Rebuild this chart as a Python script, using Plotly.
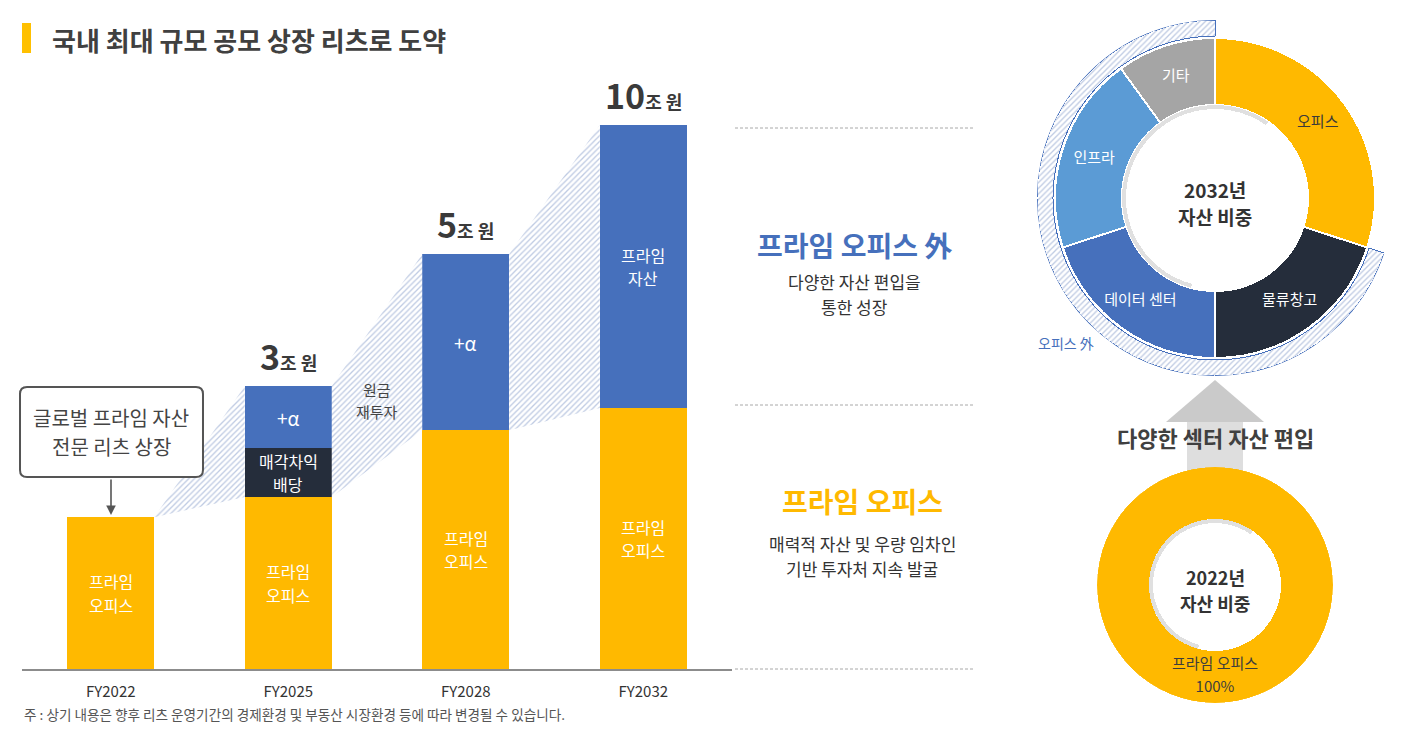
import plotly.graph_objects as go
import numpy as np

W, H = 1404, 744
OFF = 8                       # page body margin offset
WF, HF = W - OFF, H - OFF     # figure size
FONT = "Noto Sans CJK KR, Noto Sans, sans-serif"
YEL = "#FFB900"
NAVY = "#252D3B"
BLUE = "#4670BC"
LBLUE = "#5B9BD5"
GRAY = "#A5A5A5"
DARK = "#3A3A3A"

# ---------------- data ----------------
years = ["FY2022", "FY2025", "FY2028", "FY2032"]
prime_office = [27.9, 31.6, 43.9, 48.0]      # relative bar heights (illustrative)
sale_gain = [0, 9.0, 0, 0]
plus_alpha = [0, 11.4, 32.4, 52.0]
total_labels = ["", "3", "5", "10"]
office_labels = ["프라임\n오피스"] * 4
gain_labels = ["", "매각차익\n배당", "", ""]
alpha_labels = ["", "+α", "+α", "프라임\n자산"]

mix_2032_labels = ["오피스", "물류창고", "데이터 센터", "인프라", "기타"]
mix_2032_values = [30, 20, 20, 20, 10]
mix_2032_colors = [YEL, NAVY, BLUE, LBLUE, GRAY]
mix_2032_text_colors = [DARK, "white", "white", "white", "white"]
mix_2022_labels = ["프라임 오피스"]
mix_2022_values = [100]


def px(x):
    return (x - OFF) / WF


def py(y):
    return 1 - (y - OFF) / HF


fig = go.Figure()
bw = 0.49
xs_pos = list(range(len(years)))
tops = [a + b + c for a, b, c in zip(prime_office, sale_gain, plus_alpha)]

HATCH = dict(shape="/", fgcolor="#BFCBE3", bgcolor="white", size=4, solidity=0.33)

# hatched growth band between bars
for i in range(len(years) - 1):
    hx = [i + bw / 2, i + 1 - bw / 2, i + 1 - bw / 2, i + bw / 2, i + bw / 2]
    hy = [tops[i], tops[i + 1], prime_office[i + 1], prime_office[i], tops[i]]
    fig.add_trace(go.Scatter(
        x=hx, y=hy, mode="lines", fill="toself",
        line=dict(width=0, color="rgba(0,0,0,0)"),
        fillcolor="white", fillpattern=HATCH,
        hoverinfo="skip", showlegend=False))

for vals, col in [(prime_office, YEL), (sale_gain, NAVY), (plus_alpha, BLUE)]:
    fig.add_trace(go.Bar(x=xs_pos, y=vals, width=bw, marker=dict(color=col, line=dict(width=0)),
                         hoverinfo="skip", showlegend=False))

annotations = []


def ann(x, y, text, size, color, xref="paper", yref="paper", xanchor="center", yanchor="middle", **kw):
    d = dict(x=x, y=y, xref=xref, yref=yref, text=text, showarrow=False,
             font=dict(family=FONT, size=size, color=color), xanchor=xanchor, yanchor=yanchor)
    d.update(kw)
    annotations.append(d)


def ann_lines(x, y, text, size, color, gap, xref="paper", yref="paper", bold=False):
    lines = text.split("\n")
    n = len(lines)
    for k, line in enumerate(lines):
        t = "<b>%s</b>" % line if bold else line
        ann(x, y, t, size, color, xref, yref, yshift=((n - 1) / 2 - k) * gap)


# bar segment labels
for i in range(len(years)):
    ann_lines(i, prime_office[i] / 2, office_labels[i], 16, "white", 23.5, "x", "y")
    if sale_gain[i] > 0:
        ann_lines(i, prime_office[i] + sale_gain[i] / 2, gain_labels[i], 16, "white", 23.5, "x", "y")
    if plus_alpha[i] > 0:
        lab = alpha_labels[i]
        ann_lines(i, prime_office[i] + sale_gain[i] + plus_alpha[i] / 2, lab,
                  19 if lab.startswith("+") else 16, "white", 23.5, "x", "y")
    if total_labels[i]:
        ann(i, tops[i], "<b><span style='font-size:34px'>%s</span><span style='font-size:18px'>조 원</span></b>"
            % total_labels[i], 18, DARK, "x", "y", yanchor="bottom", yshift=4)

ann_lines(px(377), py(400), "원금\n재투자", 15, "#444", 22)

# callout
ann_lines(px(111), py(432), "글로벌 프라임 자산\n전문 리츠 상장", 20, "#444", 29)
annotations.append(dict(x=px(111), y=py(515), xref="paper", yref="paper", ax=0, ay=-37,
                        axref="pixel", ayref="pixel", showarrow=True, arrowhead=2, arrowsize=1.2,
                        arrowwidth=1.6, arrowcolor="#555", text=""))

# title
ann(px(50), py(40), "<b>국내 최대 규모 공모 상장 리츠로 도약</b>", 26, "#404040", xanchor="left")

# right texts
ann(px(855), py(245), "<b>프라임 오피스 外</b>", 28, BLUE)
ann_lines(px(855), py(294), "다양한 자산 편입을\n통한 성장", 17, "#333", 25)
ann(px(862), py(501), "<b>프라임 오피스</b>", 28, YEL)
ann_lines(px(862), py(556), "매력적 자산 및 우량 임차인\n기반 투자처 지속 발굴", 17, "#333", 25)

# footnote
ann(px(22), py(714), "주 : 상기 내용은 향후 리츠 운영기간의 경제환경 및 부동산 시장환경 등에 따라 변경될 수 있습니다.",
    13.6, "#555", xanchor="left")

# ---------------- donut 2032 ----------------
vals = np.array(mix_2032_values, dtype=float)
spans = 360 * vals / vals.sum()
starts = np.concatenate([[0], np.cumsum(spans)[:-1]])
centers = starts + spans / 2

ring_start = starts[1]
ring_span = 360 - ring_start
fig.add_trace(go.Barpolar(
    r=[16], base=[162], theta=[ring_start + ring_span / 2], width=[ring_span],
    marker=dict(color="white", pattern=HATCH, line=dict(color=BLUE, width=1)),
    subplot="polar", hoverinfo="skip", showlegend=False))
fig.add_trace(go.Barpolar(
    r=[67] * len(vals), base=[93] * len(vals), theta=centers, width=spans,
    marker=dict(color=mix_2032_colors, line=dict(color="white", width=2)),
    subplot="polar", hoverinfo="skip", showlegend=False))
fig.add_trace(go.Barpolar(
    r=[4], base=[89], theta=[295], width=[200], marker=dict(color="#E0E0E0", line=dict(width=0)),
    subplot="polar", hoverinfo="skip", showlegend=False))
fig.add_trace(go.Scatterpolar(
    r=[127] * len(vals), theta=centers, mode="text", text=mix_2032_labels,
    textfont=dict(family=FONT, size=15, color=mix_2032_text_colors),
    subplot="polar", hoverinfo="skip", showlegend=False))

ann_lines(px(1215), py(203), "2032년\n자산 비중", 19, "#333", 27.5, bold=True)
ann(px(1066), py(343), "오피스 外", 14, BLUE)

# ---------------- donut 2022 ----------------
v22 = np.array(mix_2022_values, dtype=float)
sp22 = 360 * v22 / v22.sum()
ce22 = np.concatenate([[0], np.cumsum(sp22)[:-1]]) + sp22 / 2
fig.add_trace(go.Barpolar(
    r=[52] * len(v22), base=[66] * len(v22), theta=ce22, width=sp22,
    marker=dict(color=YEL, line=dict(width=0)), subplot="polar2", hoverinfo="skip", showlegend=False))
fig.add_trace(go.Barpolar(
    r=[4], base=[62], theta=[295], width=[200], marker=dict(color="#E0E0E0", line=dict(width=0)),
    subplot="polar2", hoverinfo="skip", showlegend=False))
fig.add_trace(go.Scatterpolar(
    r=[80, 103], theta=[180, 180], mode="text",
    text=[mix_2022_labels[0], "%d%%" % mix_2022_values[0]],
    textfont=dict(family=FONT, size=15, color="#3d3d3d"),
    subplot="polar2", hoverinfo="skip", showlegend=False))
ann_lines(px(1215), py(590), "2022년\n자산 비중", 18, "#333", 26, bold=True)

# arrow text
ann(px(1215), py(437), "<b>다양한 섹터 자산 편입</b>", 22, "#404040")

# ---------------- shapes ----------------
shapes = []
shapes.append(dict(type="rect", xref="paper", yref="paper", x0=px(22), x1=px(31), y0=py(53), y1=py(23),
                   fillcolor="#FFC000", line=dict(width=0)))


def rrect(x0, y0, x1, y1, r):
    pts = [
        ("M", x0 + r, y0), ("L", x1 - r, y0), ("Q", x1, y0, x1, y0 + r), ("L", x1, y1 - r),
        ("Q", x1, y1, x1 - r, y1), ("L", x0 + r, y1), ("Q", x0, y1, x0, y1 - r), ("L", x0, y0 + r),
        ("Q", x0, y0, x0 + r, y0)]
    s = ""
    for p in pts:
        if p[0] == "Q":
            s += "Q%.5f,%.5f %.5f,%.5f " % (px(p[1]), py(p[2]), px(p[3]), py(p[4]))
        else:
            s += "%s%.5f,%.5f " % (p[0], px(p[1]), py(p[2]))
    return s + "Z"


shapes.append(dict(type="path", xref="paper", yref="paper", path=rrect(20, 387, 203, 477, 7),
                   line=dict(color="#555", width=2), fillcolor="white"))

for yy in [128, 405, 669]:
    shapes.append(dict(type="line", xref="paper", yref="paper", x0=px(735), x1=px(975), y0=py(yy), y1=py(yy),
                       line=dict(color="#A8A8A8", width=1, dash="3px,2px")))


def poly(points):
    return "M" + " L".join("%.5f,%.5f" % (px(a), py(b)) for a, b in points) + " Z"


shapes.append(dict(type="path", xref="paper", yref="paper", layer="below",
                   path=poly([(1187, 420), (1243, 420), (1243, 480), (1187, 480)]),
                   fillcolor="#DEDEDE", line=dict(width=0)))
shapes.append(dict(type="path", xref="paper", yref="paper", layer="below",
                   path=poly([(1215, 380), (1264, 422), (1166, 422)]),
                   fillcolor="#CACACA", line=dict(width=0)))

fig.update_layout(
    width=WF, height=HF, template="none",
    margin=dict(l=0, r=0, t=0, b=0),
    paper_bgcolor="white", plot_bgcolor="rgba(0,0,0,0)",
    barmode="stack", showlegend=False, hovermode=False,
    font=dict(family=FONT),
    xaxis=dict(domain=[px(22), px(732)], range=[-0.5, 3.5], tickvals=xs_pos, ticktext=years,
               showline=True, linecolor="#8C8C8C", linewidth=1.5, showgrid=False, zeroline=False,
               ticks="outside", ticklen=8, tickcolor="rgba(0,0,0,0)",
               tickfont=dict(family=FONT, size=15, color="#333"), fixedrange=True),
    yaxis=dict(domain=[py(669), py(125)], range=[0, 100], visible=False, showgrid=False, zeroline=False),
    polar=dict(domain=dict(x=[px(1037), px(1393)], y=[py(376), py(20)]), bgcolor="rgba(0,0,0,0)",
               barmode="overlay", hole=0,
               radialaxis=dict(range=[0, 178], visible=False),
               angularaxis=dict(rotation=90, direction="clockwise", visible=False)),
    polar2=dict(domain=dict(x=[px(1097), px(1333)], y=[py(703), py(467)]), bgcolor="rgba(0,0,0,0)",
                barmode="overlay", hole=0,
                radialaxis=dict(range=[0, 118], visible=False),
                angularaxis=dict(rotation=90, direction="clockwise", visible=False)),
    annotations=annotations, shapes=shapes,
)

fig.write_html("out.html")
